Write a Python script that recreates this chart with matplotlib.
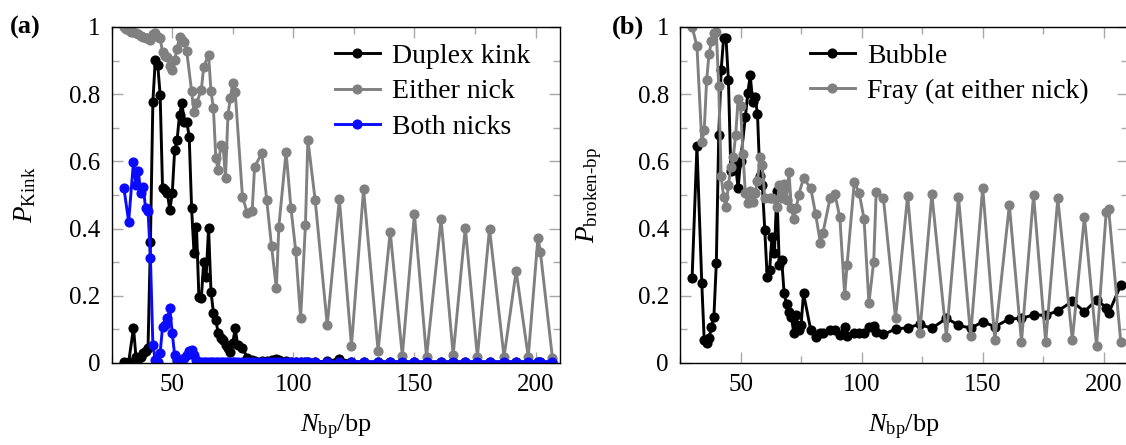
import matplotlib
matplotlib.use("Agg")
import matplotlib.pyplot as plt
from matplotlib.ticker import MultipleLocator, FuncFormatter

plt.rcParams["font.family"] = ["Liberation Serif", "DejaVu Serif"]
plt.rcParams["mathtext.fontset"] = "custom"
plt.rcParams["mathtext.rm"] = "Liberation Serif"
plt.rcParams["mathtext.it"] = "Liberation Serif:italic"
plt.rcParams["mathtext.bf"] = "Liberation Serif:bold"

GRAY = "#808080"
BLUE = "#0a0aff"

# ---- panel (a): kink probabilities ----
kink_x = [30, 32, 34, 35, 36, 37, 38, 39, 40, 41, 42, 43, 44, 45, 46, 47, 48, 49, 50,
          51, 52, 53, 54, 55, 56, 57, 58, 59, 60, 61, 62, 63, 64, 65, 66, 67, 68, 69,
          70, 71, 72, 73, 74, 75, 76, 77, 79, 81, 83, 84, 87, 89, 91, 93, 94, 97, 99,
          101, 103, 105, 106, 109, 114, 119, 124, 129, 135, 140, 145, 150, 155, 161,
          166, 171, 176, 181, 187, 192, 197, 201, 202, 207]
kink_y = [0.002, 0.002, 0.105, 0.019, 0.012, 0.019, 0.029, 0.035, 0.046, 0.361, 0.778,
          0.902, 0.887, 0.799, 0.520, 0.515, 0.505, 0.455, 0.505, 0.634, 0.664, 0.738,
          0.773, 0.718, 0.718, 0.674, 0.460, 0.326, 0.406, 0.197, 0.192, 0.302, 0.257,
          0.403, 0.212, 0.150, 0.128, 0.088, 0.075, 0.068, 0.054, 0.045, 0.034, 0.060,
          0.103, 0.054, 0.044, 0.016, 0.008, 0.006, 0.005, 0.006, 0.008, 0.012, 0.008,
          0.005, 0.004, 0.004, 0.004, 0.004, 0.004, 0.004, 0.005, 0.012, 0.004, 0.003,
          0.003, 0.003, 0.003, 0.003, 0.003, 0.003, 0.003, 0.003, 0.003, 0.003, 0.003,
          0.003, 0.003, 0.003, 0.003, 0.003]

either_x = [30, 31, 32, 33, 34, 35, 36, 37, 38, 39, 40, 41, 42, 43, 44, 45, 46, 47, 48,
            49, 50, 51, 52, 53, 54, 55, 56, 58, 59, 60, 62, 63, 65, 66, 67, 68, 69, 70,
            71, 72, 73, 74, 75, 76, 79, 81, 83, 84, 87, 89, 91, 93, 94, 97, 99, 101,
            103, 105, 106, 109, 114, 119, 124, 129, 135, 140, 145, 150, 155, 161, 166,
            171, 176, 181, 187, 192, 197, 201, 202, 207]
either_y = [1.000, 0.995, 0.990, 0.986, 0.985, 0.981, 0.980, 0.972, 0.970, 0.968, 0.966,
            0.961, 0.978, 0.981, 0.971, 0.966, 0.925, 0.915, 0.912, 0.885, 0.872, 0.902,
            0.935, 0.971, 0.961, 0.956, 0.927, 0.808, 0.746, 0.773, 0.812, 0.882, 0.917,
            0.808, 0.758, 0.609, 0.574, 0.649, 0.644, 0.550, 0.738, 0.790, 0.832, 0.807,
            0.494, 0.446, 0.452, 0.584, 0.624, 0.486, 0.347, 0.222, 0.405, 0.628, 0.462,
            0.333, 0.133, 0.411, 0.664, 0.486, 0.113, 0.487, 0.051, 0.517, 0.036, 0.390,
            0.022, 0.443, 0.018, 0.428, 0.024, 0.403, 0.018, 0.400, 0.018, 0.274, 0.018,
            0.373, 0.331, 0.014]

both_x = [30, 32, 34, 35, 36, 37, 38, 39, 40, 41, 42, 43, 44, 45, 46, 47, 48, 49, 50,
          51, 52, 53, 54, 55, 56, 57, 58, 59, 60, 61, 62, 63, 64, 65, 66, 67, 68, 69,
          70, 71, 72, 73, 74, 75, 76, 77, 79, 81, 83, 84, 87, 89, 91, 93, 94, 97, 99,
          101, 103, 105, 106, 109, 114, 119, 124, 129, 135, 140, 145, 150, 155, 161,
          166, 171, 176, 181, 187, 192, 197, 201, 202, 207]
both_y = [0.522, 0.421, 0.599, 0.530, 0.570, 0.505, 0.525, 0.460, 0.452, 0.312, 0.054,
          0.009, 0.004, 0.029, 0.108, 0.113, 0.133, 0.163, 0.088, 0.024, 0.010, 0.009,
          0.010, 0.014, 0.024, 0.035, 0.039, 0.024, 0.009, 0.004, 0.004, 0.004, 0.004,
          0.004, 0.004, 0.004, 0.004, 0.004, 0.004, 0.004, 0.004, 0.004, 0.004, 0.004,
          0.004, 0.004, 0.004, 0.004, 0.004, 0.004, 0.004, 0.004, 0.004, 0.004, 0.004,
          0.004, 0.004, 0.004, 0.004, 0.004, 0.004, 0.004, 0.004, 0.004, 0.004, 0.004,
          0.004, 0.004, 0.004, 0.004, 0.004, 0.004, 0.004, 0.004, 0.004, 0.004, 0.004,
          0.004, 0.004, 0.004, 0.004, 0.004]

# ---- panel (b): broken base-pair probabilities ----
bubble_x = [30, 32, 34, 35, 36, 37, 38, 39, 40, 41, 42, 43, 44, 45, 46, 47, 48, 49, 50,
            52, 53, 54, 55, 56, 57, 58, 59, 60, 61, 62, 63, 64, 65, 66, 67, 68, 69, 70,
            71, 72, 73, 74, 75, 76, 79, 81, 83, 84, 87, 89, 91, 93, 94, 97, 99, 101,
            103, 105, 106, 109, 114, 119, 124, 129, 135, 140, 145, 150, 155, 161, 166,
            171, 176, 181, 187, 192, 197, 201, 202, 207]
bubble_y = [0.253, 0.645, 0.237, 0.068, 0.059, 0.073, 0.108, 0.138, 0.297, 0.679, 0.872,
            0.966, 0.966, 0.842, 0.570, 0.575, 0.585, 0.520, 0.600, 0.733, 0.803, 0.857,
            0.778, 0.793, 0.740, 0.555, 0.530, 0.396, 0.257, 0.277, 0.376, 0.327, 0.512,
            0.292, 0.307, 0.207, 0.175, 0.153, 0.138, 0.088, 0.143, 0.098, 0.113, 0.207,
            0.098, 0.078, 0.088, 0.090, 0.098, 0.098, 0.083, 0.108, 0.080, 0.088, 0.090,
            0.088, 0.108, 0.111, 0.093, 0.085, 0.101, 0.105, 0.115, 0.103, 0.133, 0.113,
            0.103, 0.123, 0.108, 0.131, 0.133, 0.143, 0.142, 0.155, 0.183, 0.153, 0.188,
            0.165, 0.148, 0.232]

fray_x = [30, 32, 34, 35, 36, 37, 38, 39, 40, 41, 42, 43, 44, 45, 46, 47, 48, 49, 50,
          51, 52, 53, 54, 55, 56, 57, 58, 59, 60, 62, 63, 65, 66, 67, 68, 69, 70, 71,
          72, 73, 74, 76, 79, 81, 83, 84, 87, 89, 91, 93, 94, 97, 99, 101, 103, 105,
          106, 109, 114, 119, 124, 129, 135, 140, 145, 150, 155, 161, 166, 171, 176,
          181, 187, 192, 197, 201, 202, 207]
fray_y = [1.000, 0.943, 0.658, 0.692, 0.842, 0.920, 0.958, 0.982, 0.984, 0.823, 0.557,
          0.495, 0.465, 0.530, 0.584, 0.614, 0.679, 0.785, 0.765, 0.622, 0.505, 0.475,
          0.512, 0.480, 0.505, 0.542, 0.614, 0.589, 0.490, 0.492, 0.490, 0.465, 0.530,
          0.490, 0.532, 0.485, 0.569, 0.460, 0.429, 0.460, 0.500, 0.550, 0.520, 0.443,
          0.356, 0.386, 0.492, 0.502, 0.433, 0.202, 0.293, 0.540, 0.505, 0.429, 0.178,
          0.302, 0.508, 0.490, 0.133, 0.498, 0.088, 0.502, 0.078, 0.494, 0.081, 0.522,
          0.068, 0.470, 0.063, 0.500, 0.062, 0.490, 0.068, 0.435, 0.051, 0.450, 0.457,
          0.063]


def style_axis(ax, ylabel, ylab_x):
    ax.set_xlim(25, 210)
    ax.set_ylim(0, 1)
    ax.xaxis.set_major_locator(MultipleLocator(50))
    ax.xaxis.set_minor_locator(MultipleLocator(25))
    ax.yaxis.set_major_locator(MultipleLocator(0.2))
    ax.yaxis.set_minor_locator(MultipleLocator(0.1))
    ax.yaxis.set_major_formatter(FuncFormatter(lambda v, p: f"{v:g}"))
    ax.tick_params(which="both", direction="in", top=True, right=True,
                   color="#a8a8a8", labelsize=18, pad=8)
    ax.tick_params(which="major", length=8, width=1)
    ax.tick_params(which="minor", length=5, width=1)
    for sp in ax.spines.values():
        sp.set_linewidth(1.0)
    ax.set_xlabel(r"$N_{\mathrm{bp}}/\mathrm{bp}$", fontsize=19)
    ax.xaxis.set_label_coords(0.5, -0.148)
    ax.set_ylabel(ylabel, fontsize=19.5)
    ax.yaxis.set_label_coords(ylab_x, 0.5)


line_kw = dict(marker="o", markersize=6.3, linewidth=2.1)

fig = plt.figure(figsize=(11.26, 4.45), dpi=100)
ax1 = fig.add_axes([0.0992, 0.1843, 0.3979, 0.7551])
ax2 = fig.add_axes([0.6039, 0.1843, 0.3979, 0.7551])

ax1.plot(kink_x, kink_y, color="black", label="Duplex kink", **line_kw)
ax1.plot(either_x, either_y, color=GRAY, label="Either nick", **line_kw)
ax1.plot(both_x, both_y, color=BLUE, label="Both nicks", **line_kw)
style_axis(ax1, r"$P_{\mathrm{Kink}}$", -0.165)
ax1.legend(loc="upper left", bbox_to_anchor=(0.498, 0.95), frameon=False,
           fontsize=20, handlelength=1.62, handletextpad=0.45, labelspacing=0.35,
           borderpad=0, borderaxespad=0)

ax2.plot(bubble_x, bubble_y, color="black", label="Bubble", **line_kw)
ax2.plot(fray_x, fray_y, color=GRAY, label="Fray (at either nick)", **line_kw)
style_axis(ax2, r"$P_{\mathrm{broken\text{-}bp}}$", -0.17)
ax2.legend(loc="upper left", bbox_to_anchor=(0.29, 0.952), frameon=False,
           fontsize=20, handlelength=1.62, handletextpad=0.45, labelspacing=0.35,
           borderpad=0, borderaxespad=0)

fig.text(25 / 1126, 1 - 27 / 445, "(a)", ha="center", va="center",
         fontsize=19, fontweight="bold")
fig.text(628 / 1126, 1 - 27 / 445, "(b)", ha="center", va="center",
         fontsize=19, fontweight="bold")

fig.savefig("out.png", dpi=100)
plt.close(fig)
